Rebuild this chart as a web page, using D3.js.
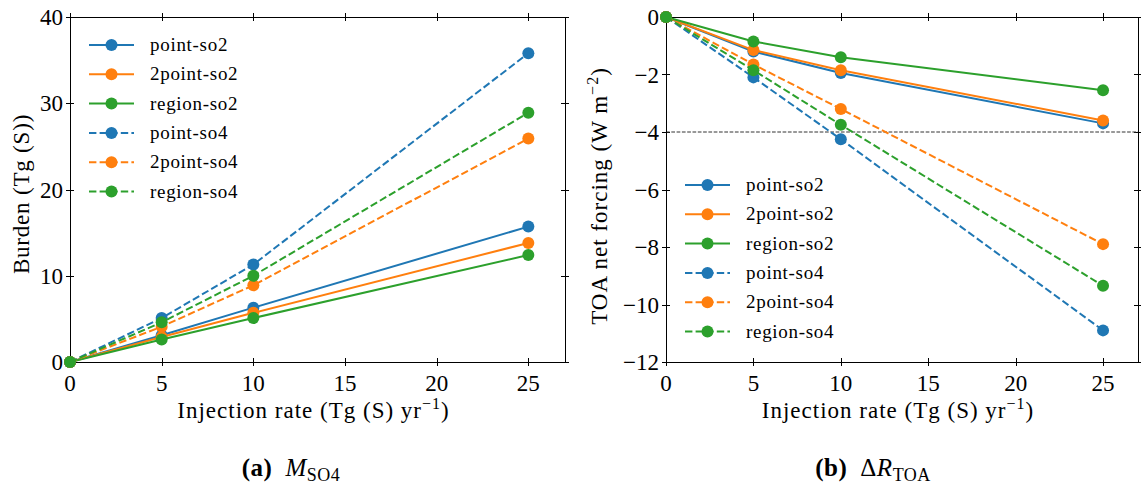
<!DOCTYPE html>
<html><head><meta charset="utf-8">
<script src="https://cdn.jsdelivr.net/npm/d3@7"></script>
<style>
body{margin:0;background:#fff;}
svg text{font-family:"Liberation Serif","DejaVu Serif",serif;fill:#000;}
</style></head>
<body><svg id="c" width="1141" height="486"></svg>
<script>
const injection = [0, 5, 10, 25];
const seriesNames = ["point-so2","2point-so2","region-so2","point-so4","2point-so4","region-so4"];
const seriesColors = ["#1f77b4","#ff7f0e","#2ca02c","#1f77b4","#ff7f0e","#2ca02c"];
const seriesDashed = [false,false,false,true,true,true];
// Panel (a) burden Tg(S)
const burdenPointSo2  = [0, 3.1, 6.3, 15.7];
const burdenTwoSo2    = [0, 2.9, 5.7, 13.8];
const burdenRegionSo2 = [0, 2.6, 5.1, 12.4];
const burdenPointSo4  = [0, 5.1, 11.3, 35.8];
const burdenTwoSo4    = [0, 4.1, 8.9, 25.9];
const burdenRegionSo4 = [0, 4.6, 10.0, 28.9];
// Panel (b) TOA net forcing W m-2
const toaPointSo2  = [0, -1.2, -1.95, -3.7];
const toaTwoSo2    = [0, -1.15, -1.85, -3.6];
const toaRegionSo2 = [0, -0.85, -1.4, -2.55];
const toaPointSo4  = [0, -2.1, -4.25, -10.9];
const toaTwoSo4    = [0, -1.65, -3.2, -7.9];
const toaRegionSo4 = [0, -1.85, -3.75, -9.35];
const xTicks = [0,5,10,15,20,25];
const yTicksA = [0,10,20,30,40];
const yTicksB = [0,-2,-4,-6,-8,-10,-12];
const refLineB = -4;

const svg = d3.select("#c");
const dash = "7.4,3.2";

function panel(opts){
  const g = svg.append("g");
  const x = d3.scaleLinear().domain([0,27]).range([opts.x0, opts.x1]);
  const y = d3.scaleLinear().domain(opts.yDomain).range([opts.yb, opts.yt]);
  const tl = 4;
  const tickG = g.append("g").attr("stroke","#000").attr("stroke-width",1);
  xTicks.forEach(t=>{
    const px = Math.round(x(t))+0.5;
    tickG.append("line").attr("x1",px).attr("x2",px).attr("y1",opts.yb-tl).attr("y2",opts.yb+tl);
    tickG.append("line").attr("x1",px).attr("x2",px).attr("y1",opts.yt-tl).attr("y2",opts.yt+tl);
    g.append("text").attr("x",x(t)).attr("y",opts.yb+29).attr("text-anchor","middle")
      .attr("font-size",23).text(t);
  });
  opts.yTicks.forEach(t=>{
    const py = Math.round(y(t))+0.5;
    tickG.append("line").attr("x1",opts.x0-tl).attr("x2",opts.x0+tl).attr("y1",py).attr("y2",py);
    tickG.append("line").attr("x1",opts.x1-tl).attr("x2",opts.x1+tl).attr("y1",py).attr("y2",py);
    g.append("text").attr("x",opts.x0-7).attr("y",y(t)+8).attr("text-anchor","end")
      .attr("font-size",23).text(t<0 ? "\u2212"+(-t) : t);
  });
  if(opts.ref!==undefined){
    g.append("line").attr("x1",opts.x0).attr("x2",opts.x1)
      .attr("y1",y(opts.ref)).attr("y2",y(opts.ref))
      .attr("stroke","#333").attr("stroke-width",1).attr("stroke-dasharray","3.7,1.6");
  }
  g.append("rect").attr("x",opts.x0+0.5).attr("y",opts.yt+0.5)
    .attr("width",opts.x1-opts.x0).attr("height",opts.yb-opts.yt)
    .attr("fill","none").attr("stroke","#000").attr("stroke-width",1);
  const line = d3.line().x((d,i)=>x(injection[i])).y(d=>y(d));
  opts.data.forEach((vals,k)=>{
    g.append("path").attr("d",line(vals)).attr("fill","none")
      .attr("stroke",seriesColors[k]).attr("stroke-width",2)
      .attr("stroke-dasharray",seriesDashed[k]?dash:null);
    vals.forEach((v,i)=>{
      g.append("circle").attr("cx",x(injection[i])).attr("cy",y(v)).attr("r",6)
        .attr("fill",seriesColors[k]);
    });
  });
  seriesNames.forEach((n,k)=>{
    const ly = opts.legY + k*29.3;
    g.append("line").attr("x1",opts.legX).attr("x2",opts.legX+45).attr("y1",ly).attr("y2",ly)
      .attr("stroke",seriesColors[k]).attr("stroke-width",2)
      .attr("stroke-dasharray",seriesDashed[k]?dash:null);
    g.append("circle").attr("cx",opts.legX+22.5).attr("cy",ly).attr("r",6).attr("fill",seriesColors[k]);
    g.append("text").attr("x",opts.legX+61).attr("y",ly+6).attr("font-size",19)
      .attr("letter-spacing",0.7).text(n);
  });
  const xl = g.append("text").attr("x",(opts.x0+opts.x1)/2-4).attr("y",opts.yb+56)
    .attr("text-anchor","middle").attr("font-size",23).attr("letter-spacing",1);
  xl.append("tspan").text("Injection rate (Tg (S) yr");
  xl.append("tspan").attr("dy",-9).attr("font-size",16).text("\u22121");
  xl.append("tspan").attr("dy",9).text(")");
  return {g,x,y};
}

panel({x0:70,x1:565,yt:17,yb:362,yDomain:[0,40],yTicks:yTicksA,
  data:[burdenPointSo2,burdenTwoSo2,burdenRegionSo2,burdenPointSo4,burdenTwoSo4,burdenRegionSo4],
  legX:89,legY:45});
panel({x0:666,x1:1138,yt:17,yb:362,yDomain:[-12,0],yTicks:yTicksB,ref:refLineB,
  data:[toaPointSo2,toaTwoSo2,toaRegionSo2,toaPointSo4,toaTwoSo4,toaRegionSo4],
  legX:685,legY:185});

svg.append("text").attr("transform","translate(29,194) rotate(-90)")
  .attr("text-anchor","middle").attr("font-size",23).attr("letter-spacing",0.8).text("Burden (Tg (S))");
const yl = svg.append("text").attr("transform","translate(607,196) rotate(-90)")
  .attr("text-anchor","middle").attr("font-size",23).attr("letter-spacing",1);
yl.append("tspan").text("TOA net forcing (W m");
yl.append("tspan").attr("dy",-9).attr("font-size",16).text("\u22122");
yl.append("tspan").attr("dy",9).text(")");

const ca = svg.append("text").attr("x",291).attr("y",476).attr("text-anchor","middle").attr("font-size",25).attr("letter-spacing",0.5);
ca.append("tspan").attr("font-weight","bold").text("(a)");
ca.append("tspan").text("\u2002");
ca.append("tspan").attr("font-style","italic").text("M");
ca.append("tspan").attr("dy",5).attr("font-size",18).text("SO4");
const cb = svg.append("text").attr("x",873).attr("y",476).attr("text-anchor","middle").attr("font-size",25).attr("letter-spacing",0.5);
cb.append("tspan").attr("font-weight","bold").text("(b)");
cb.append("tspan").text("\u2002\u0394");
cb.append("tspan").attr("font-style","italic").text("R");
cb.append("tspan").attr("dy",5).attr("font-size",18).text("TOA");
</script></body></html>
